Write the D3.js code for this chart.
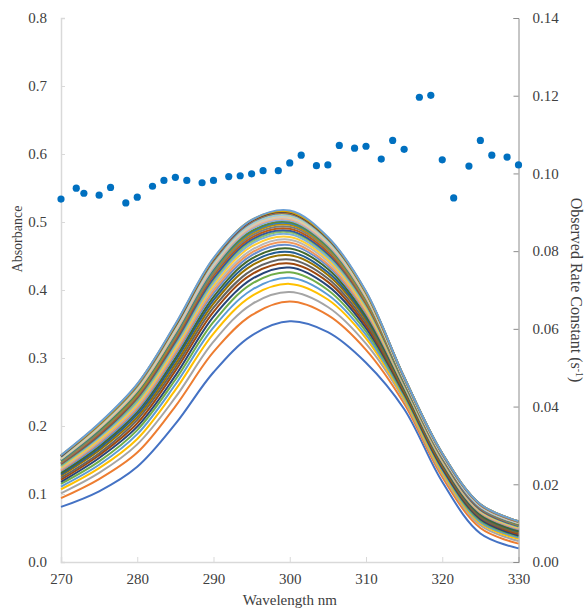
<!DOCTYPE html>
<html>
<head>
<meta charset="utf-8">
<script src="https://cdn.jsdelivr.net/npm/d3@7"></script>
<style>
  body { margin: 0; background: #fff; }
  text { font-family: "Liberation Serif", "Times New Roman", serif; fill: #404040; }
</style>
</head>
<body>
<script>
'use strict';

// wavelength grid of the spectra (nm)
var wavelengths = [270, 275, 280, 285, 290, 295, 300, 305, 310, 315, 320, 325, 330];

// absorbance spectra, first scan at the bottom, last scan at the top
var absorbance = [
    [0.081, 0.104, 0.140, 0.203, 0.279, 0.333, 0.354, 0.338, 0.293, 0.225, 0.118, 0.042, 0.020],
    [0.094, 0.122, 0.161, 0.229, 0.309, 0.363, 0.383, 0.363, 0.312, 0.233, 0.125, 0.050, 0.027],
    [0.101, 0.131, 0.173, 0.242, 0.324, 0.379, 0.397, 0.375, 0.321, 0.238, 0.129, 0.054, 0.031],
    [0.107, 0.138, 0.181, 0.253, 0.336, 0.391, 0.409, 0.386, 0.329, 0.241, 0.132, 0.057, 0.034],
    [0.111, 0.143, 0.188, 0.261, 0.345, 0.400, 0.418, 0.393, 0.334, 0.244, 0.135, 0.059, 0.036],
    [0.115, 0.148, 0.194, 0.268, 0.353, 0.409, 0.426, 0.400, 0.339, 0.246, 0.137, 0.061, 0.038],
    [0.118, 0.153, 0.199, 0.274, 0.361, 0.416, 0.433, 0.406, 0.344, 0.248, 0.138, 0.063, 0.039],
    [0.121, 0.157, 0.204, 0.281, 0.368, 0.423, 0.439, 0.412, 0.348, 0.250, 0.140, 0.065, 0.041],
    [0.124, 0.160, 0.209, 0.286, 0.374, 0.429, 0.445, 0.417, 0.352, 0.252, 0.142, 0.066, 0.043],
    [0.127, 0.164, 0.213, 0.291, 0.380, 0.436, 0.451, 0.422, 0.356, 0.253, 0.143, 0.068, 0.044],
    [0.129, 0.167, 0.217, 0.296, 0.385, 0.441, 0.456, 0.426, 0.359, 0.255, 0.145, 0.069, 0.045],
    [0.131, 0.170, 0.221, 0.300, 0.390, 0.446, 0.461, 0.431, 0.362, 0.256, 0.146, 0.070, 0.046],
    [0.134, 0.173, 0.224, 0.305, 0.395, 0.451, 0.466, 0.435, 0.366, 0.258, 0.147, 0.072, 0.048],
    [0.135, 0.176, 0.227, 0.308, 0.399, 0.455, 0.470, 0.438, 0.368, 0.259, 0.148, 0.073, 0.049],
    [0.137, 0.178, 0.230, 0.312, 0.403, 0.459, 0.474, 0.442, 0.371, 0.260, 0.149, 0.074, 0.050],
    [0.139, 0.180, 0.233, 0.315, 0.407, 0.464, 0.478, 0.445, 0.373, 0.261, 0.150, 0.075, 0.051],
    [0.141, 0.183, 0.236, 0.319, 0.411, 0.468, 0.482, 0.448, 0.376, 0.262, 0.151, 0.076, 0.052],
    [0.142, 0.185, 0.238, 0.322, 0.414, 0.471, 0.485, 0.451, 0.378, 0.263, 0.152, 0.077, 0.052],
    [0.144, 0.186, 0.241, 0.324, 0.417, 0.474, 0.487, 0.453, 0.380, 0.264, 0.153, 0.077, 0.053],
    [0.145, 0.188, 0.243, 0.327, 0.421, 0.477, 0.490, 0.456, 0.381, 0.265, 0.153, 0.078, 0.054],
    [0.146, 0.190, 0.245, 0.330, 0.424, 0.480, 0.493, 0.459, 0.383, 0.266, 0.154, 0.079, 0.054],
    [0.148, 0.192, 0.247, 0.332, 0.427, 0.483, 0.496, 0.461, 0.385, 0.266, 0.155, 0.080, 0.055],
    [0.149, 0.193, 0.249, 0.334, 0.429, 0.485, 0.498, 0.463, 0.387, 0.267, 0.155, 0.080, 0.056],
    [0.150, 0.194, 0.250, 0.336, 0.431, 0.487, 0.500, 0.464, 0.388, 0.267, 0.156, 0.081, 0.056],
    [0.151, 0.196, 0.252, 0.338, 0.433, 0.490, 0.502, 0.466, 0.389, 0.268, 0.156, 0.081, 0.057],
    [0.152, 0.197, 0.253, 0.339, 0.435, 0.492, 0.504, 0.468, 0.390, 0.269, 0.157, 0.082, 0.057],
    [0.152, 0.198, 0.255, 0.341, 0.437, 0.494, 0.506, 0.470, 0.392, 0.269, 0.157, 0.082, 0.058],
    [0.153, 0.199, 0.256, 0.343, 0.439, 0.496, 0.508, 0.471, 0.393, 0.270, 0.158, 0.083, 0.058],
    [0.154, 0.200, 0.257, 0.344, 0.440, 0.497, 0.509, 0.472, 0.394, 0.270, 0.158, 0.083, 0.058],
    [0.155, 0.201, 0.258, 0.346, 0.442, 0.499, 0.511, 0.474, 0.395, 0.271, 0.159, 0.084, 0.059],
    [0.155, 0.202, 0.259, 0.347, 0.443, 0.500, 0.512, 0.475, 0.396, 0.271, 0.159, 0.084, 0.059],
    [0.156, 0.202, 0.260, 0.347, 0.444, 0.501, 0.513, 0.476, 0.396, 0.271, 0.159, 0.084, 0.059],
    [0.156, 0.203, 0.261, 0.348, 0.445, 0.502, 0.514, 0.476, 0.397, 0.272, 0.160, 0.085, 0.060],
    [0.157, 0.203, 0.261, 0.349, 0.446, 0.503, 0.515, 0.477, 0.397, 0.272, 0.160, 0.085, 0.060],
    [0.157, 0.204, 0.262, 0.350, 0.447, 0.503, 0.517, 0.478, 0.398, 0.272, 0.160, 0.085, 0.060]
];

// observed rate constant at each wavelength (s-1)
var rateWavelengths = [270, 272, 273, 275, 276.5, 278.5, 280, 282, 283.5, 285, 286.5, 288.5, 290,
    292, 293.5, 295, 296.5, 298.5, 300, 301.5, 303.5, 305, 306.5, 308.5, 310, 312, 313.5, 315,
    317, 318.5, 320, 321.5, 323.5, 325, 326.5, 328.5, 330];
var rateConstants = [0.0934, 0.0962, 0.0949, 0.0944, 0.0964, 0.0924, 0.0939, 0.0967, 0.0982, 0.0990,
    0.0982, 0.0976, 0.0982, 0.0992, 0.0994, 0.0999, 0.1007, 0.1007, 0.1027, 0.1047, 0.1020, 0.1022,
    0.1072, 0.1065, 0.1070, 0.1037, 0.1085, 0.1062, 0.1196, 0.1201, 0.1035, 0.0937, 0.1019, 0.1085,
    0.1047, 0.1042, 0.1022];

var wlTicks = [270, 280, 290, 300, 310, 320, 330];
var absTicks = [0, 0.1, 0.2, 0.3, 0.4, 0.5, 0.6, 0.7, 0.8];
var rateTicks = [0, 0.02, 0.04, 0.06, 0.08, 0.10, 0.12, 0.14];

// Excel style series colours
var seriesColors = ["#4472C4", "#ED7D31", "#A5A5A5", "#FFC000", "#5B9BD5", "#70AD47",
    "#264478", "#9E480E", "#636363", "#997300", "#255E91", "#43682B",
    "#698ED0", "#F1975A", "#B7B7B7", "#FFCD33", "#7CAFDD", "#8CC168",
    "#335AA1", "#BC5A14", "#7C7C7C", "#BF9000", "#327DC2", "#5A8A39",
    "#8FAADC", "#F4B183", "#C9C9C9", "#FFD966", "#9DC3E6", "#A9D18E",
    "#3C64AE", "#D0742F", "#404040", "#D9A300", "#6A9FD6"];

var W = 585, H = 610;
var margin = {top: 18, right: 66.5, bottom: 48, left: 61},
    width = W - margin.left - margin.right,
    height = H - margin.top - margin.bottom;

var svg = d3.select("body").append("svg")
    .attr("width", W)
    .attr("height", H);

var g = svg.append("g")
    .attr("transform", "translate(" + margin.left + "," + margin.top + ")");

var x = d3.scaleLinear().domain([270, 330]).range([0, width]);
var yAbs = d3.scaleLinear().domain([0, 0.8]).range([height, 0]);
var yRate = d3.scaleLinear().domain([0, 0.14]).range([height, 0]);

// axes
var xAxis = g.append("g")
    .attr("transform", "translate(0," + height + ")")
    .call(d3.axisBottom(x).tickValues(wlTicks).tickSize(-5).tickPadding(11).tickFormat(d3.format("d")));

var leftAxis = g.append("g")
    .call(d3.axisLeft(yAbs).tickValues(absTicks).tickSize(-4).tickPadding(14).tickFormat(d3.format(".1f")));

var rightAxis = g.append("g")
    .attr("transform", "translate(" + width + ",0)")
    .call(d3.axisRight(yRate).tickValues(rateTicks).tickSize(-5).tickPadding(14).tickFormat(d3.format(".2f")));

[xAxis, leftAxis].forEach(function (a) {
    a.select(".domain").attr("stroke", "#d9d9d9").attr("stroke-width", 1.5);
    a.selectAll(".tick line").attr("stroke", "#d9d9d9");
});
rightAxis.select(".domain").attr("stroke", "#8c8c8c");
rightAxis.selectAll(".tick line").attr("stroke", "#8c8c8c");

[xAxis, leftAxis, rightAxis].forEach(function (a) {
    a.attr("font-family", null);
    a.selectAll(".tick text")
        .style("font-size", "15px")
        .attr("fill", "#404040");
});
xAxis.selectAll(".tick text").attr("dy", "0.71em");

// spectra
var line = d3.line()
    .x(function (d, i) { return x(wavelengths[i]); })
    .y(function (d) { return yAbs(d); })
    .curve(d3.curveCatmullRom);

g.selectAll(".spectrum")
    .data(absorbance)
    .enter().append("path")
    .attr("class", "spectrum")
    .attr("fill", "none")
    .attr("stroke", function (d, i) { return seriesColors[i % seriesColors.length]; })
    .attr("stroke-width", 2)
    .attr("d", line);

// rate constants
g.selectAll(".rate")
    .data(rateConstants)
    .enter().append("circle")
    .attr("class", "rate")
    .attr("cx", function (d, i) { return x(rateWavelengths[i]); })
    .attr("cy", function (d) { return yRate(d); })
    .attr("r", 3.6)
    .attr("fill", "#0070C0");

// axis titles
svg.append("text")
    .attr("x", margin.left + x(300))
    .attr("y", 605)
    .attr("text-anchor", "middle")
    .style("font-size", "15px")
    .text("Wavelength nm");

svg.append("text")
    .attr("transform", "translate(22," + (margin.top + yAbs(0.475)) + ") rotate(-90)")
    .attr("text-anchor", "middle")
    .style("font-size", "14px")
    .text("Absorbance");

var rt = svg.append("text")
    .attr("transform", "translate(571," + (margin.top + yRate(0.07)) + ") rotate(90)")
    .attr("text-anchor", "middle")
    .style("font-size", "16px");
rt.append("tspan").text("Observed Rate Constant (s");
rt.append("tspan").attr("dy", "-5").style("font-size", "10px").text("-1");
rt.append("tspan").attr("dy", "5").text(")");
</script>
</body>
</html>
